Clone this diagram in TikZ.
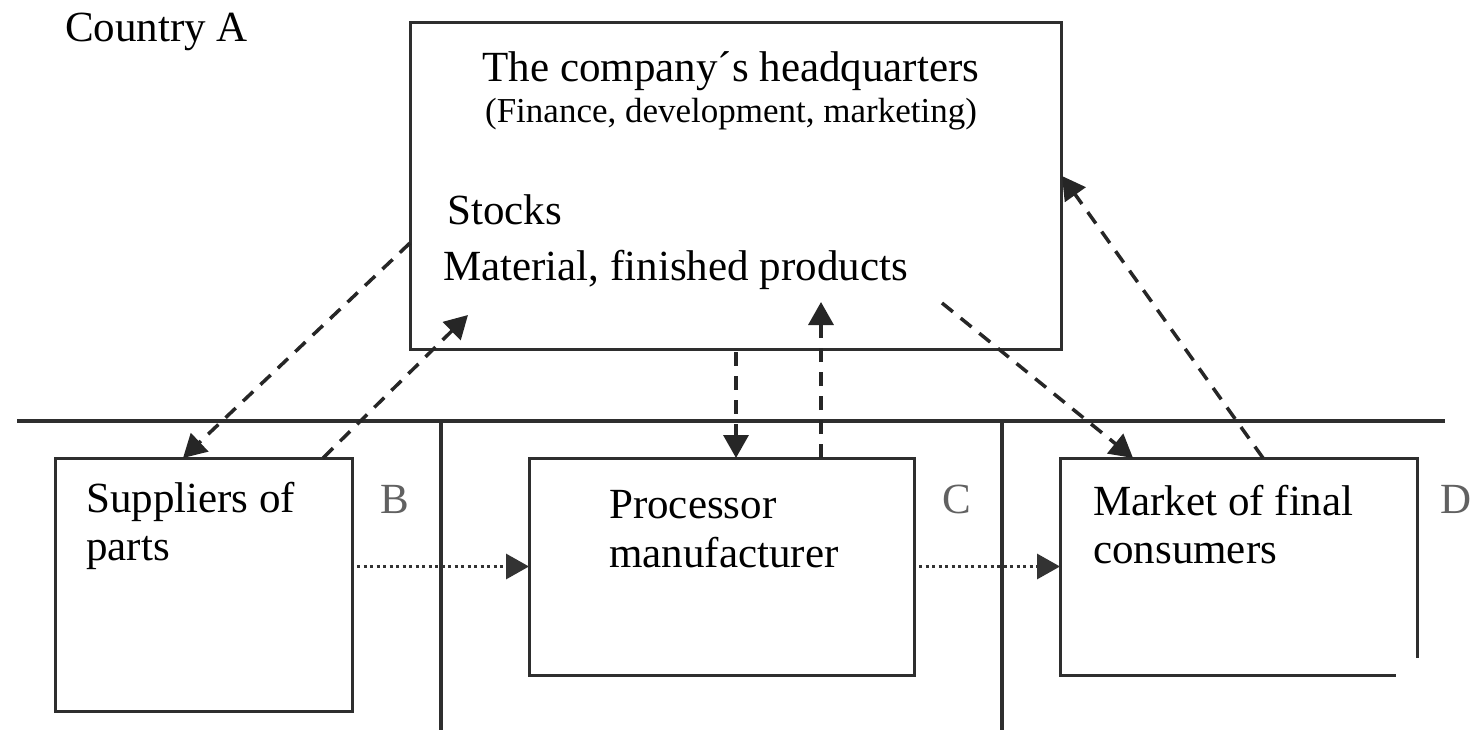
\documentclass[tikz,border=0pt]{standalone}
\usepackage{fontspec}
\setmainfont{Liberation Serif}
\usetikzlibrary{arrows.meta,calc}
\begin{document}
\begin{tikzpicture}[x=1pt,y=-1pt,
  box/.style={draw=black!82, line width=3pt, inner sep=0pt, outer sep=0pt, anchor=north west},
  hole/.style={inner sep=0pt, outer sep=0pt, anchor=north west},
  boxline/.style={draw=black!82, line width=3pt, line join=miter},
  sepline/.style={draw=black!82, line width=3.5pt},
  lbl/.style={inner sep=0pt, anchor=base west, font=\fontsize{43}{50}\selectfont},
  sublbl/.style={inner sep=0pt, anchor=base, font=\fontsize{35}{40}\selectfont},
  zone/.style={inner sep=0pt, anchor=base west, text=black!62, font=\fontsize{43}{50}\selectfont},
  dasharrow/.style={draw=black!85, line width=3.5pt, dash pattern=on 14pt off 10pt,
    -{Triangle[length=23pt,width=25pt]}},
  dotarrow/.style={draw=black!80, line width=3.2pt, dash pattern=on 3pt off 3.5pt,
    -{Triangle[length=23pt,width=25pt]}}
]
\useasboundingbox (0,0) rectangle (1473,730);

% separators
\coordinate (hl) at (17,421);
\coordinate (hr) at (1445,421);
\coordinate (v1t) at (441,421);
\coordinate (v1b) at (441,730);
\coordinate (v2t) at (1002,421);
\coordinate (v2b) at (1002,730);
\draw[sepline] (hl) -- (hr);
\draw[sepline] (v1t) -- (v1b);
\draw[sepline] (v2t) -- (v2b);

% boxes
\node[box, minimum width=651pt, minimum height=326pt] (hq) at (410,23) {};
\node[box, minimum width=297pt, minimum height=253pt] (sup) at (55,458) {};
\node[box, minimum width=385pt, minimum height=217pt] (proc) at (529,458) {};
\node[hole, minimum width=357pt, minimum height=217pt] (mkt) at (1060,458) {};
\draw[boxline] ($(mkt.north east)+(0,200)$) -- (mkt.north east) -- (mkt.north west)
  -- (mkt.south west) -- ($(mkt.south east)+(-21,0)$);

% texts
\node[lbl] (country) at (65,42) {Country A};
\node[lbl, anchor=base] (hq1) at (731,82) {The company´s headquarters};
\node[sublbl] (hq2) at (731,123) {(Finance, development, marketing)};
\node[lbl] (hq3) at (447,225) {Stocks};
\node[lbl] (hq4) at (443,280) {Material, finished products};
\node[lbl] (sup1) at (86,512) {Suppliers of};
\node[lbl] (sup2) at (86,560) {parts};
\node[lbl] (proc1) at (609,518) {Processor};
\node[lbl] (proc2) at (609,567) {manufacturer};
\node[lbl] (mkt1) at (1093,515) {Market of final};
\node[lbl] (mkt2) at (1093,563) {consumers};
\node[zone] (zb) at (380,513) {B};
\node[zone] (zc) at (942,513) {C};
\node[zone] (zd) at (1440,513) {D};

% free ends inside the headquarters box
\coordinate (hqA) at (468,315);
\coordinate (hqB) at (821,302);
\coordinate (hqC) at (942,303);
\coordinate (hqD) at (1062,176);

% dashed flows
\draw[dasharrow] ($(hq.north west)+(0,220)$) -- ($(sup.north west)+(128,0)$);
\draw[dasharrow] ($(sup.north west)+(268,0)$) -- (hqA);
\draw[dasharrow] ($(hq.south west)+(326,3)$) -- ($(proc.north west)+(207,0)$);
\draw[dasharrow] ($(proc.north west)+(292,0)$) -- (hqB);
\draw[dasharrow] (hqC) -- ($(mkt.north west)+(73,0)$);
\draw[dasharrow] ($(mkt.north west)+(203,0)$) -- (hqD);

% dotted flows
\draw[dotarrow] ([xshift=5pt]sup.east |- proc.west) -- (proc.west);
\draw[dotarrow] ([xshift=5pt]proc.east) -- (mkt.west);
\end{tikzpicture}
\end{document}
